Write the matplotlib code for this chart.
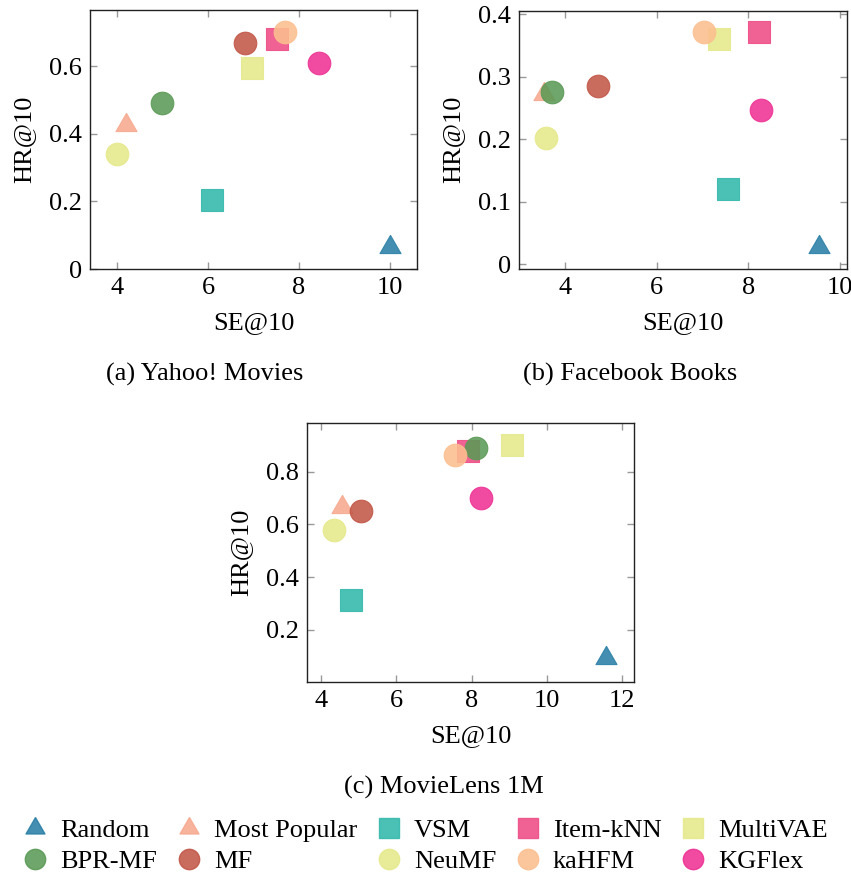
import numpy as np
import matplotlib.pyplot as plt
from matplotlib.lines import Line2D
from matplotlib.ticker import FuncFormatter

plt.rcParams['font.family'] = ['Liberation Serif', 'DejaVu Serif']
plt.rcParams['mathtext.fontset'] = 'stix'

# Models, in drawing order
models = ['Random', 'Most Popular', 'VSM', 'Item-kNN', 'MultiVAE',
          'BPR-MF', 'MF', 'NeuMF', 'kaHFM', 'KGFlex']
colors = ['#2a7fa6', '#f7a98f', '#32b9ab', '#ef4c84', '#e5e98a',
          '#5b9a56', '#c25647', '#e5e98a', '#fcbf8f', '#ee3194']
shapes = ['tri', 'tri', 's', 's', 's', 'o', 'o', 'o', 'o', 'o']

# SE@10 / HR@10 per dataset
yahoo_se = [10.0, 4.19, 6.09, 7.51, 6.97, 4.99, 6.82, 4.00, 7.70, 8.44]
yahoo_hr = [0.065, 0.425, 0.205, 0.680, 0.595, 0.490, 0.668, 0.339, 0.700, 0.610]

fb_se = [9.55, 3.52, 7.56, 8.23, 7.35, 3.70, 4.72, 3.57, 7.02, 8.28]
fb_hr = [0.028, 0.272, 0.120, 0.372, 0.360, 0.276, 0.285, 0.202, 0.371, 0.247]

ml_se = [11.58, 4.56, 4.78, 7.90, 9.07, 8.13, 5.05, 4.35, 7.56, 8.25]
ml_hr = [0.093, 0.667, 0.313, 0.878, 0.901, 0.891, 0.649, 0.577, 0.863, 0.700]

tri = [(0, 1), (-0.866, -0.5), (0.866, -0.5), (0, 1)]
msize = {'tri': 17.5, 's': 15.8, 'o': 16.3}
FS = 19


def mk(s):
    return tri if s == 'tri' else s


def fmt(v, pos):
    return '0' if abs(v) < 1e-9 else '%g' % v


W, H = 851, 877
fig = plt.figure(figsize=(W / 100, H / 100), dpi=100)


def panel(px, se, hr, xlim, ylim, xt, yt, caption, cap_x, cap_y):
    l, r, t, b = px
    ax = fig.add_axes([l / W, 1 - b / H, (r - l) / W, (b - t) / H])
    for i in range(len(models)):
        ax.scatter(se[i], hr[i], s=msize[shapes[i]] ** 2, marker=mk(shapes[i]),
                   facecolor=colors[i], edgecolor=colors[i], alpha=0.88,
                   linewidths=0.8, zorder=3)
    ax.set_xlim(*xlim)
    ax.set_ylim(*ylim)
    ax.set_xticks(xt)
    ax.set_yticks(yt)
    ax.yaxis.set_major_formatter(FuncFormatter(fmt))
    ax.tick_params(direction='in', length=5, width=1, color='#999999',
                   top=True, right=True, labelsize=FS, pad=6)
    for sp in ax.spines.values():
        sp.set_color('#222222')
        sp.set_linewidth(1.0)
    ax.set_xlabel('SE@10', fontsize=FS, labelpad=9)
    ax.set_ylabel('HR@10', fontsize=FS, labelpad=10)
    fig.text(cap_x / W, 1 - cap_y / H, caption, fontsize=FS,
             ha='center', va='center')
    return ax


panel((90, 417, 10, 269), yahoo_se, yahoo_hr, (3.4, 10.6), (0, 0.766),
      [4, 6, 8, 10], [0, 0.2, 0.4, 0.6], '(a) Yahoo! Movies', 205, 374)
panel((519.3, 846.7, 10.7, 268.7), fb_se, fb_hr, (2.99, 10.15), (-0.007, 0.4057),
      [4, 6, 8, 10], [0, 0.1, 0.2, 0.3, 0.4], '(b) Facebook Books', 630, 374)
panel((307.3, 634, 423.3, 681.7), ml_se, ml_hr, (3.63, 12.32), (0.004, 0.983),
      [4, 6, 8, 10, 12], [0.2, 0.4, 0.6, 0.8], '(c) MovieLens 1M', 444, 787)

# legend: 5 columns, filled column by column
handles = []
for i in range(len(models)):
    handles.append(Line2D([], [], linestyle='none', marker=mk(shapes[i]),
                          markersize=msize[shapes[i]] * 0.9,
                          markerfacecolor=colors[i], markeredgecolor=colors[i],
                          alpha=0.88, label=models[i]))
order = [0, 5, 1, 6, 2, 7, 3, 8, 4, 9]
fig.legend([handles[k] for k in order], [models[k] for k in order],
           loc='center', bbox_to_anchor=(0.4995, 1 - 846 / H), ncol=5,
           frameon=False, fontsize=FS, handlelength=1.0, handletextpad=0.45,
           columnspacing=0.7, labelspacing=0.3, borderaxespad=0)

fig.savefig('out.png', dpi=100)
